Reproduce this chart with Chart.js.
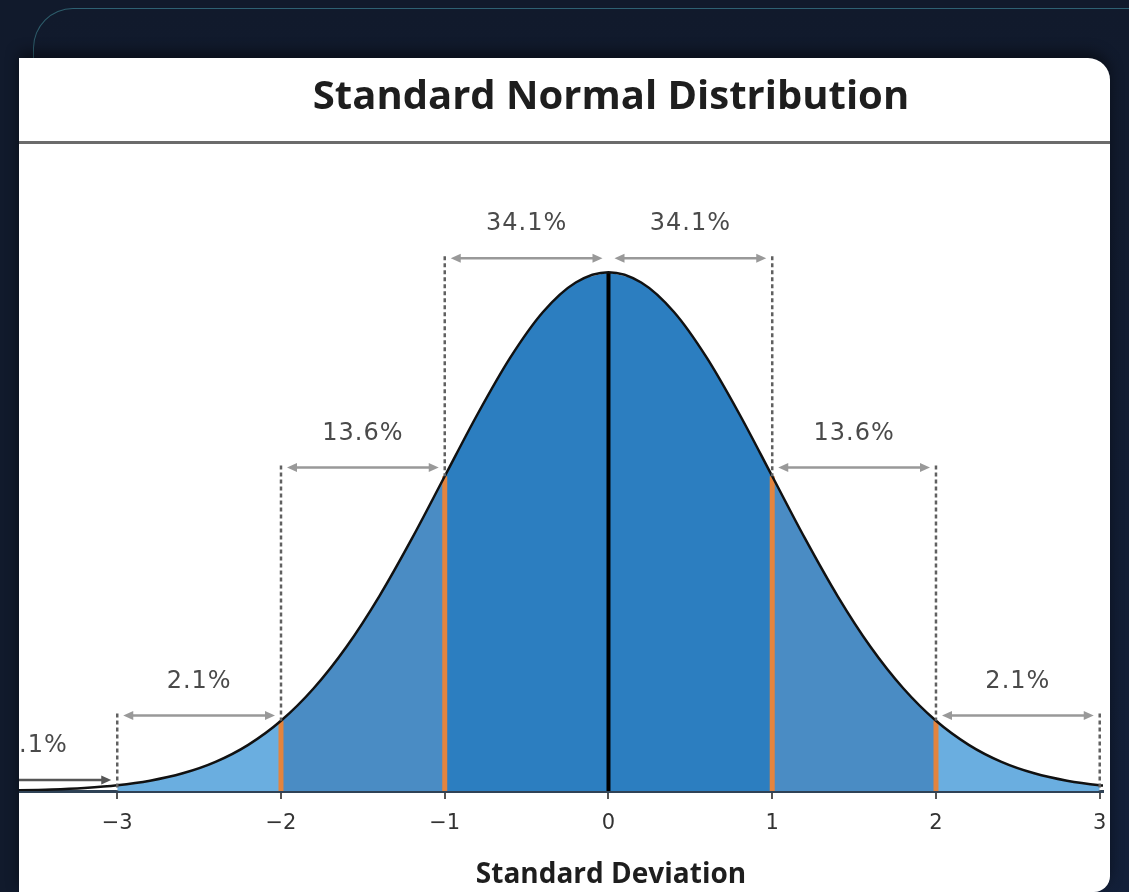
<!DOCTYPE html>
<html>
<head>
<meta charset="utf-8">
<script src="https://cdn.jsdelivr.net/npm/chart.js@4.4.1/dist/chart.umd.min.js"></script>
<style>
  html, body { margin: 0; padding: 0; width: 1129px; height: 892px; overflow: hidden; background: #111a2c; }
  #frame { position: absolute; left: 33px; top: 8px; width: 1140px; height: 960px; border: 1px solid rgba(70,150,160,0.55); border-radius: 40px; background: linear-gradient(#111a2c, #13203a); }
  #card { position: absolute; left: 19px; top: 58px; width: 1091px; height: 834px; background: #fff; overflow: hidden; border-radius: 0 22px 16px 0; box-shadow: 0 -6px 14px rgba(0,0,0,0.45); }
  #rule { position: absolute; left: 0; top: 83px; width: 100%; height: 3px; background: #6b6b6b; }
  #cv { position: absolute; left: -19px; top: -58px; }
</style>
</head>
<body>
<div id="frame"></div>
<div id="card">
  <div id="rule"></div>
  <canvas id="cv" width="1129" height="892"></canvas>
</div>
<script>
// ---- data ----
const xValues = [-3.8,-3.6,-3.4,-3.2,-3.0,-2.8,-2.6,-2.4,-2.2,-2.0,-1.8,-1.6,-1.4,-1.2,-1.0,-0.8,-0.6,-0.4,-0.2,0.0,
                 0.2,0.4,0.6,0.8,1.0,1.2,1.4,1.6,1.8,2.0,2.2,2.4,2.6,2.8,3.0,3.2];
const density = [0.0003,0.0006,0.0012,0.0024,0.0044,0.0079,0.0136,0.0224,0.0355,0.0540,0.0790,0.1109,0.1497,0.1942,0.2420,0.2897,0.3332,0.3683,0.3910,0.3989,
                 0.3910,0.3683,0.3332,0.2897,0.2420,0.1942,0.1497,0.1109,0.0790,0.0540,0.0355,0.0224,0.0136,0.0079,0.0044,0.0024];
const tickValues = [-3,-2,-1,0,1,2,3];
const tickLabels = ['\u22123','\u22122','\u22121','0','1','2','3'];
const bandStarts = [-4,-3,-2,-1,0,1,2];
const bandEnds   = [-3,-2,-1,0,1,2,3];
const bandLabels = ['0.1%','2.1%','13.6%','34.1%','34.1%','13.6%','2.1%'];
const markerX = [-2,-1,1,2];
const centerX = [0];
const chartTitle = 'Standard Normal Distribution';
const axisTitle = 'Standard Deviation';

// ---- styling / layout (not data) ----
const arrowLevel = {'0.1%':0.0085,'2.1%':0.058,'13.6%':0.2487,'34.1%':0.4097};
const colors = { light:'#6aaee0', mid:'#4a8cc4', dark:'#2c7ec0', orange:'#e3843e', curve:'#111', guide:'#606060', arrow:'#999999' };
function regionColor(a,b){ const m=Math.abs((a+b)/2); return m<1?colors.dark:(m<2?colors.mid:colors.light); }

const pts = xValues.map((x,i)=>({x:x,y:density[i]}));
const densAt = x => density[xValues.findIndex(v=>Math.abs(v-x)<1e-9)];
const sub = (a,b) => pts.filter(p=>p.x>=a-1e-9 && p.x<=b+1e-9);

const datasets = [];
datasets.push({ data: pts, borderColor: colors.curve, borderWidth: 2.5, pointRadius: 0, fill: false, order: 0, cubicInterpolationMode:'monotone' });
markerX.forEach(x=>datasets.push({ data:[{x:x,y:0},{x:x,y:densAt(x)}], borderColor: colors.orange, borderWidth: 5, pointRadius:0, fill:false, order:1 }));
centerX.forEach(x=>datasets.push({ data:[{x:x,y:0},{x:x,y:densAt(x)}], borderColor: '#000', borderWidth: 4, pointRadius:0, fill:false, order:1 }));
[[-3,-2],[-2,-1],[-1,0],[0,1],[1,2],[2,3]].forEach(([a,b])=>datasets.push({
  data: sub(a,b), borderWidth:0, borderColor:'rgba(0,0,0,0)', backgroundColor: regionColor(a,b), pointRadius:0, fill:'origin', order:2, cubicInterpolationMode:'monotone'
}));

const annot = {
  id:'annot',
  afterDraw(chart){
    const ctx = chart.ctx, xs = chart.scales.x, ys = chart.scales.y;
    ctx.save();
    // titles
    ctx.fillStyle = '#1e1e1e'; ctx.textAlign = 'center'; ctx.textBaseline = 'middle';
    ctx.font = 'bold 40px "Open Sans"'; ctx.fillText(chartTitle, 611, 98);
    ctx.font = 'bold 28px "Open Sans"'; ctx.fillText(axisTitle, 611, 875);
    ctx.restore();
  },
  afterDatasetsDraw(chart){
    const ctx = chart.ctx, xs = chart.scales.x, ys = chart.scales.y;
    ctx.save();
    // dashed guides
    ctx.strokeStyle = colors.guide; ctx.lineWidth = 2.5; ctx.setLineDash([4,3]);
    const guide = (x, y0, y1) => { ctx.beginPath(); ctx.moveTo(xs.getPixelForValue(x), ys.getPixelForValue(y0)-2); ctx.lineTo(xs.getPixelForValue(x), ys.getPixelForValue(y1)); ctx.stroke(); };
    guide(-1, arrowLevel['34.1%'], densAt(-1)); guide(1, arrowLevel['34.1%'], densAt(1));
    guide(-2, arrowLevel['13.6%'], densAt(-2)); guide(2, arrowLevel['13.6%'], densAt(2));
    guide(-3, arrowLevel['2.1%'], 0); guide(3, arrowLevel['2.1%'], 0);
    ctx.setLineDash([]);
    // arrows and labels
    bandLabels.forEach((lab,i)=>{
      const y = ys.getPixelForValue(arrowLevel[lab]);
      const x0 = xs.getPixelForValue(bandStarts[i]) + 6, x1 = xs.getPixelForValue(bandEnds[i]) - 6;
      const col = lab==='0.1%' ? '#555' : colors.arrow;
      ctx.strokeStyle = col; ctx.fillStyle = col; ctx.lineWidth = 2.5;
      ctx.beginPath(); ctx.moveTo(x0+4,y); ctx.lineTo(x1-4,y); ctx.stroke();
      ctx.beginPath(); ctx.moveTo(x0,y); ctx.lineTo(x0+10,y-4.5); ctx.lineTo(x0+10,y+4.5); ctx.closePath(); ctx.fill();
      ctx.beginPath(); ctx.moveTo(x1,y); ctx.lineTo(x1-10,y-4.5); ctx.lineTo(x1-10,y+4.5); ctx.closePath(); ctx.fill();
      ctx.fillStyle = '#4a4a4a'; ctx.font = '24px "DejaVu Sans"'; ctx.textAlign='center'; ctx.textBaseline='middle';
      ctx.letterSpacing = '1px';
      let cx = (x0+x1)/2;
      if (lab==='0.1%') cx = xs.getPixelForValue(bandEnds[i]) - 82;
      ctx.fillText(lab, cx, y-34);
      ctx.letterSpacing = '0px';
    });
    ctx.restore();
  }
};

new Chart(document.getElementById('cv'), {
  type:'line',
  data:{ datasets },
  plugins:[annot],
  options:{
    responsive:false, animation:false, events:[],
    layout:{ padding:{ left:19, right:26, top:121, bottom:0 } },
    plugins:{ legend:{display:false}, tooltip:{enabled:false}, title:{display:false} },
    scales:{
      x:{ type:'linear', min:-3.6, max:3.02,
          afterBuildTicks: s => { s.ticks = tickValues.map(v=>({value:v})); },
          afterFit: s => { s.height = 101; },
          grid:{ drawOnChartArea:false, drawTicks:true, tickLength:8, color:'#555', lineWidth:2 },
          border:{ display:true, color:'#2f4256', width:3 },
          ticks:{ autoSkip:false, maxRotation:0, padding:12, color:'#333', font:{family:'"DejaVu Sans"', size:21},
                  callback:(v)=> tickLabels[tickValues.indexOf(v)] },
          title:{ display:false }
      },
      y:{ display:false, min:0, max:(790-121)/1298.6 }
    }
  }
});
</script>
</body>
</html>
